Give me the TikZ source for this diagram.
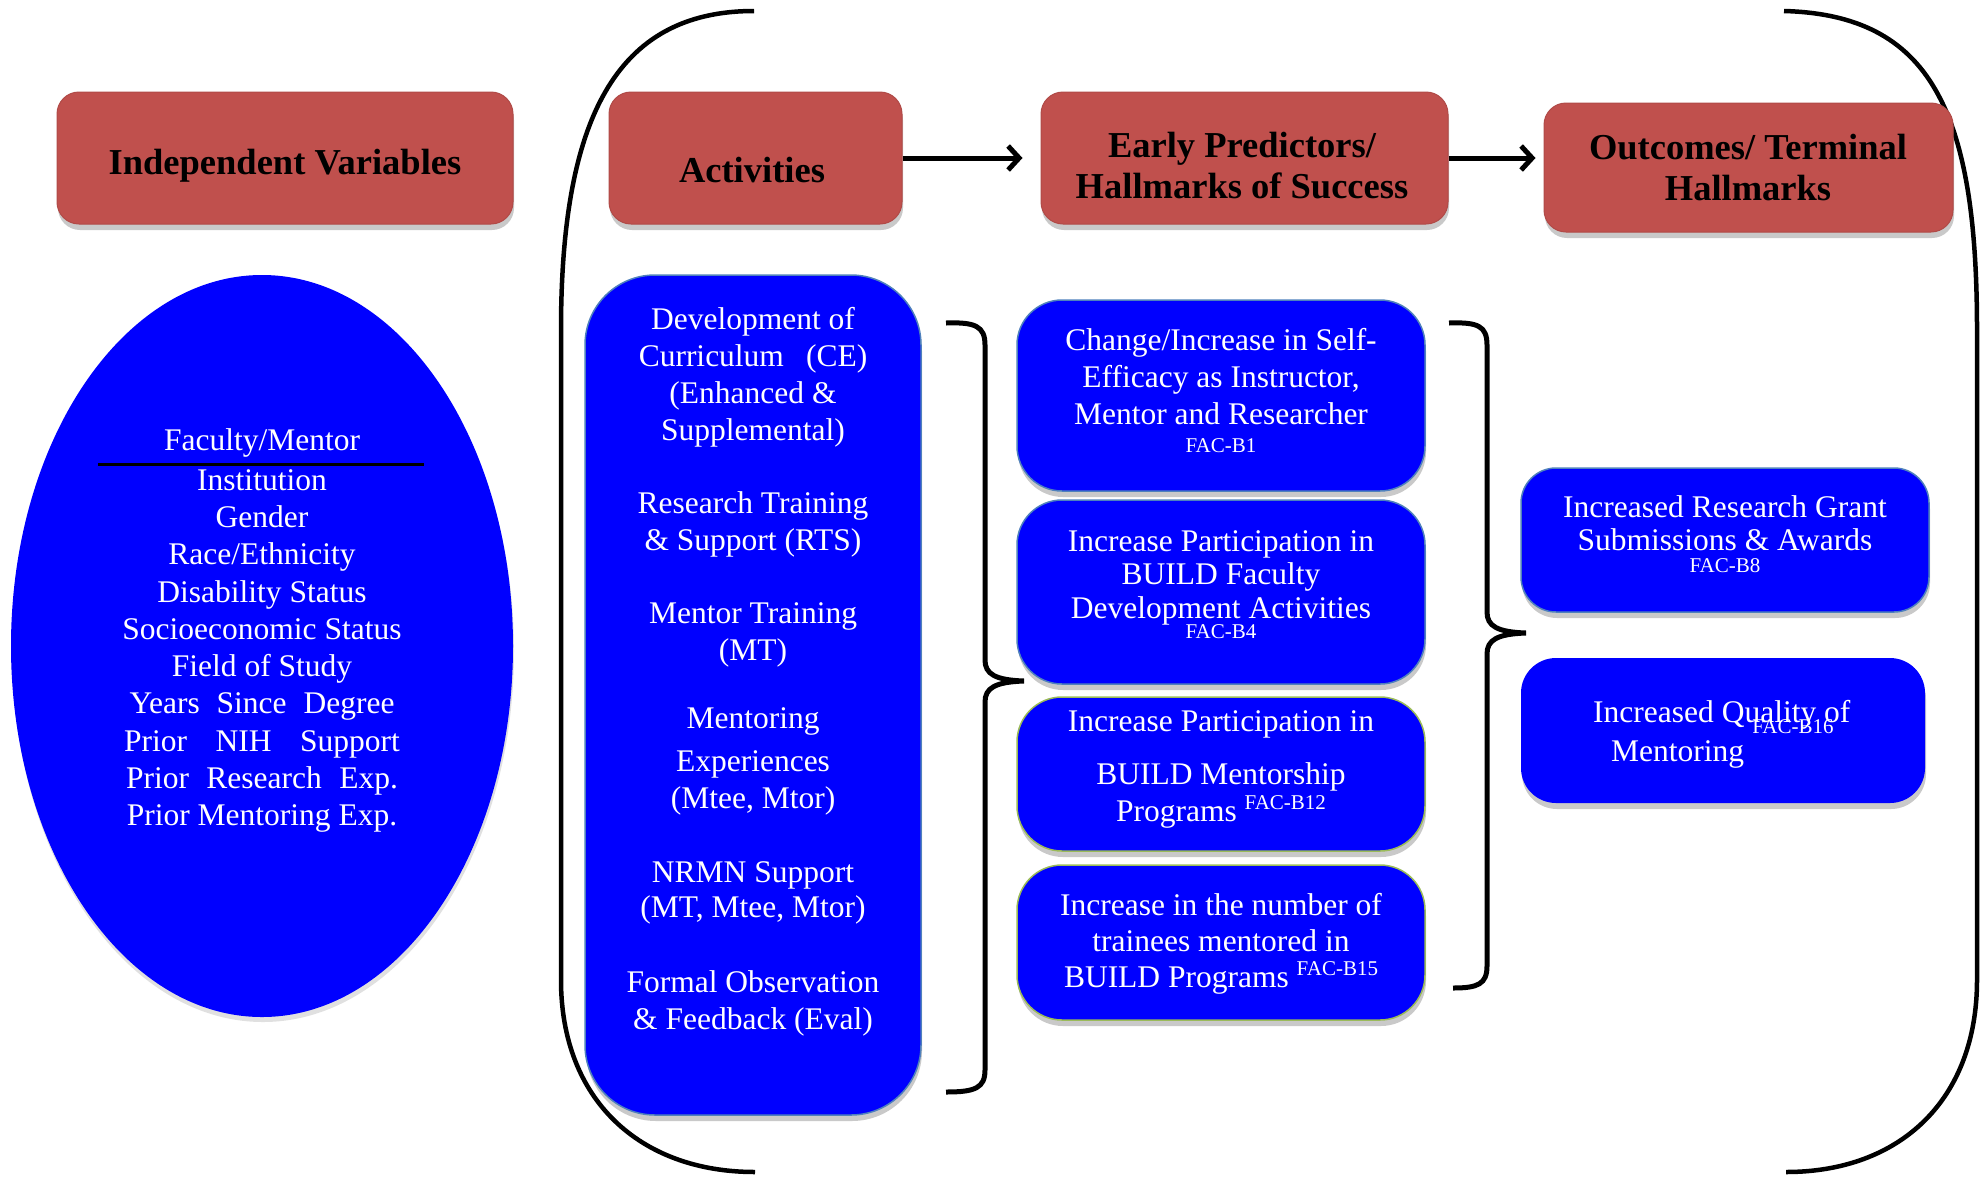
\documentclass[tikz,border=0pt]{standalone}
\usepackage{fontspec}
\setmainfont{Liberation Serif}
\usetikzlibrary{shapes.geometric,arrows.meta,shadows}
\definecolor{hdrred}{HTML}{C0504D}
\definecolor{hdredge}{HTML}{B04A47}
\definecolor{bxblue}{HTML}{0000FF}
\definecolor{edgeblue}{HTML}{4F81BD}
\definecolor{edgegreen}{HTML}{9BBB59}
\begin{document}
\begin{tikzpicture}[x=1pt,y=-1pt,
  shad/.style={drop shadow={shadow xshift=1pt,shadow yshift=-6pt,opacity=0.3,fill=black!70}},
  hdr/.style={draw=hdredge,line width=1pt,fill=hdrred,rounded corners=22pt,inner sep=0pt,shad},
  hdrtxt/.style={align=center,inner sep=0pt,font=\fontsize{36.5}{41}\selectfont\bfseries},
  bbox/.style={fill=bxblue,draw=edgeblue,line width=1.5pt,inner sep=0pt,shad},
  gbox/.style={bbox,draw=edgegreen},
  btxt/.style={text=white,align=center,font=\fontsize{31.5}{37}\selectfont,inner sep=0pt},
  faclbl/.style={text=white,font=\fontsize{21}{21}\selectfont,inner sep=0pt},
  paren/.style={line width=4.5pt},
  brace/.style={line width=5pt},
  arr/.style={line width=5pt,-{Straight Barb[length=11pt,width=24pt]}}
]
\useasboundingbox (0,0) rectangle (1986,1176);
% big parentheses
\draw[paren] (754,11) .. controls (615,11) and (561,120) .. (561,330) -- (561,980)
  .. controls (561,1100) and (640,1172) .. (755,1172);
\draw[paren] (1784,11) .. controls (1930,15) and (1977,110) .. (1977,330) -- (1977,980)
  .. controls (1977,1100) and (1900,1172) .. (1786,1172);

% header boxes
\node[hdr,minimum width=456pt,minimum height=132pt] (iv) at (285,158) {};
\node[hdrtxt] (ivt) at (285,166) {Independent Variables};
\node[hdr,minimum width=293pt,minimum height=132pt] (act) at (755.5,158) {};
\node[hdrtxt] (actt) at (752,170) {Activities};
\node[hdr,minimum width=407pt,minimum height=132pt] (early) at (1244.5,158) {};
\node[hdrtxt] (earlyt) at (1242,166) {Early Predictors/\\Hallmarks of Success};
\node[hdr,minimum width=409pt,minimum height=129pt] (outc) at (1748.5,167.5) {};
\node[hdrtxt] (outct) at (1748,168) {Outcomes/ Terminal\\Hallmarks};
\draw[arr,shorten >=18pt] (act.east) -- (early.west);
\draw[arr,shorten >=8pt] (early.east) -- (early.east -| outc.west);

% independent variables ellipse
\node[ellipse,fill=bxblue,minimum width=502pt,minimum height=742pt,inner sep=0pt,
  drop shadow={shadow xshift=1pt,shadow yshift=-5pt,opacity=0.2,fill=black!60}] (ivell) at (262,646) {};
\node[btxt] (fm) at (262,443) {Faculty/Mentor};
\coordinate (rulel) at (98,464);
\coordinate (ruler) at (424,464);
\draw[line width=3pt] (rulel) -- (ruler);
\node[btxt,font=\fontsize{31.5}{37.3}\selectfont] (ivlist) at (262,651) {Institution\\Gender\\Race/Ethnicity\\Disability Status\\Socioeconomic Status\\Field of Study\\\makebox[265pt][s]{Years Since Degree}\\\makebox[276pt][s]{Prior NIH Support}\\\makebox[272pt][s]{Prior Research Exp.}\\Prior Mentoring Exp.};

% activities
\node[bbox,rounded corners=70pt,minimum width=336pt,minimum height=840pt] (actbox) at (753,695) {};
\node[btxt] (a1) at (753,377) {Development of\\Curriculum\hspace{0.45em} (CE)\\(Enhanced \&\\Supplemental)};
\node[btxt] (a2) at (753,524.5) {Research Training\\\& Support (RTS)};
\node[btxt] (a3) at (753,634.5) {Mentor Training\\(MT)};
\node[btxt] (a4) at (753,761) {Mentoring\\[6pt]Experiences\\(Mtee, Mtor)};
\node[btxt,font=\fontsize{31.5}{35}\selectfont] (a5) at (753,892.5) {NRMN Support\\(MT, Mtee, Mtor)};
\node[btxt] (a6) at (753,1003.5) {Formal Observation\\\& Feedback (Eval)};

% early predictors
\node[bbox,rounded corners=45pt,minimum width=408pt,minimum height=191pt] (p1) at (1221,395.5) {};
\node[btxt] (p1t) at (1221,376.5) {Change/Increase in Self-\\Efficacy as Instructor,\\Mentor and Researcher};
\node[faclbl] (p1f) at (1221,446) {FAC-B1};
\node[bbox,rounded corners=45pt,minimum width=408pt,minimum height=184pt] (p2) at (1221,592) {};
\node[btxt,font=\fontsize{31.5}{33.5}\selectfont] (p2t) at (1221,577.5) {Increase Participation in\\BUILD Faculty\\Development Activities};
\node[faclbl] (p2f) at (1221,632) {FAC-B4};
\node[gbox,rounded corners=45pt,minimum width=408pt,minimum height=154pt] (p3) at (1221,774) {};
\node[btxt] (p3t) at (1221,769) {Increase Participation in\\[16pt]BUILD Mentorship\\Programs \raisebox{12pt}{\fontsize{21}{21}\selectfont FAC-B12}};
\node[gbox,rounded corners=45pt,minimum width=408pt,minimum height=155pt] (p4) at (1221,942.5) {};
\node[btxt,font=\fontsize{31.5}{36}\selectfont] (p4t) at (1221,944) {Increase in the number of\\trainees mentored in\\BUILD Programs \raisebox{12pt}{\fontsize{21}{21}\selectfont FAC-B15}};

% outcomes
\node[bbox,rounded corners=35pt,minimum width=408pt,minimum height=144pt] (o1) at (1725,540) {};
\node[btxt,font=\fontsize{31.5}{33}\selectfont] (o1t) at (1725,523.5) {Increased Research Grant\\Submissions \& Awards};
\node[faclbl] (o1f) at (1725,566) {FAC-B8};
\node[bbox,draw=none,rounded corners=35pt,minimum width=404pt,minimum height=145pt] (o2) at (1723,730.5) {};
\node[btxt,anchor=base west] (o2a) at (1593,722) {Increased Quality of};
\node[btxt,anchor=base west] (o2b) at (1611,761) {Mentoring};
\node[faclbl] (o2f) at (1793,727) {FAC-B16};

% braces
\draw[brace] (946,323) .. controls (975,322) and (985,326) .. (985,345) -- (985,660)
  .. controls (985,674) and (995,680) .. (1024,681) .. controls (995,682) and (985,688) .. (985,702)
  -- (985,1070) .. controls (985,1088) and (975,1092) .. (946,1092);
\draw[brace] (1449,323) .. controls (1478,322) and (1487,326) .. (1487,345) -- (1487,612)
  .. controls (1487,626) and (1497,632) .. (1526,633) .. controls (1497,634) and (1487,640) .. (1487,654)
  -- (1487,966) .. controls (1487,984) and (1478,988) .. (1453,988);
\end{tikzpicture}
\end{document}
